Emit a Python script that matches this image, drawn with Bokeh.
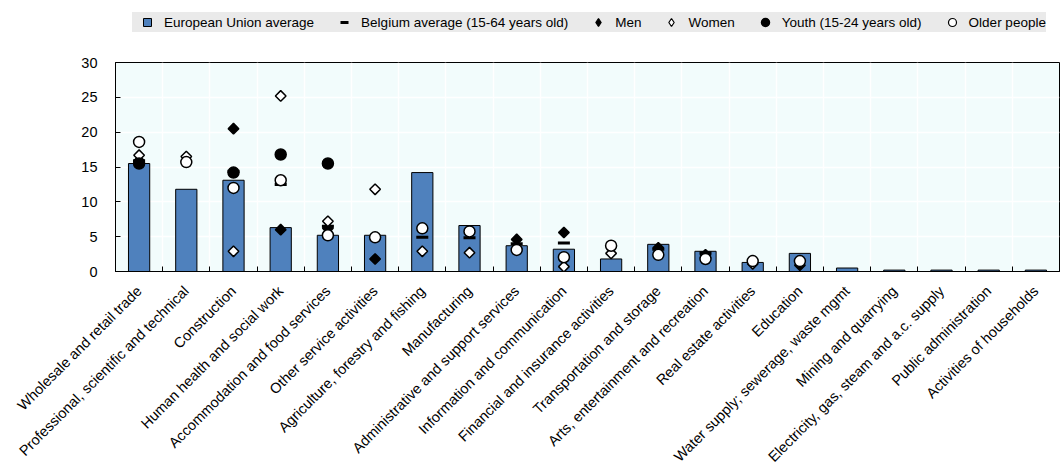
import math
from bokeh.plotting import figure
from bokeh.layouts import column
from bokeh.models import (ColumnDataSource, FixedTicker, Legend, LegendItem, Range1d)
from bokeh.embed import file_html
from bokeh.resources import INLINE

nan = float("nan")

categories = [
    "Wholesale and retail trade", "Professional, scientific and technical", "Construction",
    "Human health and social work", "Accommodation and food services", "Other service activities",
    "Agriculture, forestry and fishing", "Manufacturing", "Administrative and support services",
    "Information and communication", "Financial and insurance activities", "Transportation and storage",
    "Arts, entertainment and recreation", "Real estate activities", "Education",
    "Water supply; sewerage, waste mgmt", "Mining and quarrying", "Electricity, gas, steam and a.c. supply",
    "Public administration", "Activities of households",
]
eu_avg = [15.5, 11.8, 13.1, 6.3, 5.2, 5.2, 14.2, 6.6, 3.7, 3.2, 1.8, 3.9, 2.9, 1.3, 2.6, 0.5, 0.2, 0.2, 0.2, 0.2]
belgium_avg = [15.9, nan, 14.4, 12.5, 6.5, nan, 4.9, 4.85, 4.0, 4.1, nan, 3.2, 2.7, nan, nan, nan, nan, nan, nan, nan]
men = [15.9, nan, 20.5, 6.0, 6.2, 1.8, nan, nan, 4.6, 5.6, nan, 3.4, 2.4, nan, 0.9, nan, nan, nan, nan, nan]
women = [16.7, 16.5, 2.9, 25.2, 7.2, 11.8, 2.9, 2.7, nan, 0.7, 2.6, nan, nan, 1.1, nan, nan, nan, nan, nan, nan]
youth = [15.5, nan, 14.2, 16.8, 15.5, nan, nan, nan, nan, nan, nan, nan, nan, nan, nan, nan, nan, nan, nan, nan]
older = [18.6, 15.7, 12.0, 13.1, 5.2, 4.9, 6.2, 5.75, 3.1, 2.05, 3.7, 2.4, 1.8, 1.5, 1.5, nan, nan, nan, nan, nan]
y_ticks = [0, 5, 10, 15, 20, 25, 30]
legend_labels = ["European Union average", "Belgium average (15-64 years old)", "Men", "Women",
                 "Youth (15-24 years old)", "Older people"]

n = len(categories)
xc = [i + 0.5 for i in range(n)]
src = ColumnDataSource(dict(x=xc, eu=eu_avg, be=belgium_avg, men=men, women=women, youth=youth, older=older))
series_cols = ["eu", "be", "men", "women", "youth", "older"]

FONT = "Liberation Sans"
BLUE = "#4f81bd"

# marker styles on the chart
styles = [
    dict(marker="square", size=10, fill_color=BLUE, line_color="black", line_width=1),
    dict(marker="dash", size=12, line_color="black", line_width=3),
    dict(marker="square", angle=math.pi / 4, size=7.5, fill_color="black", line_color="black", line_width=1.5),
    dict(marker="square", angle=math.pi / 4, size=7.5, fill_color="white", line_color="black", line_width=1.5),
    dict(marker="circle", size=11, fill_color="black", line_color="black", line_width=1.5),
    dict(marker="circle", size=11, fill_color="white", line_color="black", line_width=1.5),
]
# legend glyphs (legend does not rotate markers, so use diamonds there)
leg_styles = [dict(s) for s in styles]
for k in (2, 3):
    leg_styles[k].pop("angle")
    leg_styles[k]["marker"] = "diamond"
    leg_styles[k]["line_width"] = 1.2
leg_styles[5]["line_width"] = 1.2

p = figure(frame_width=944, frame_height=209, output_backend="svg", toolbar_location=None,
           x_range=Range1d(0, n), y_range=Range1d(0, 30),
           min_border_left=115, min_border_right=1, min_border_top=30, min_border_bottom=150)
p.background_fill_color = "#f2fcfc"
p.border_fill_color = "white"
p.outline_line_color = "black"
p.outline_line_width = 1

p.vbar(x="x", top="eu", width=0.45, source=src, fill_color=BLUE, line_color="black", line_width=1)
for col_name, st in zip(series_cols[1:], styles[1:]):
    p.scatter(x="x", y=col_name, source=src, **st)

# axes
xa = p.xaxis[0]
xa.ticker = FixedTicker(ticks=xc, minor_ticks=list(range(n + 1)))
xa.major_label_overrides = {x: c for x, c in zip(xc, categories)}
xa.major_label_orientation = math.pi / 4
xa.major_tick_line_color = None
xa.minor_tick_in = 5
xa.minor_tick_out = 0
xa.minor_tick_line_color = "black"
xa.axis_line_color = "black"
xa.major_label_text_font = FONT
xa.major_label_text_font_size = "14.5px"
xa.major_label_text_color = "black"
xa.major_label_standoff = 11

ya = p.yaxis[0]
ya.ticker = FixedTicker(ticks=y_ticks)
ya.major_tick_in = 5
ya.major_tick_out = 0
ya.minor_tick_line_color = None
ya.axis_line_color = "black"
ya.major_label_text_font = FONT
ya.major_label_text_font_size = "14.5px"
ya.major_label_text_color = "black"
ya.major_label_standoff = 18

p.xgrid.ticker = FixedTicker(ticks=list(range(n + 1)))
p.xgrid.grid_line_color = "white"
p.xgrid.grid_line_width = 1.5
p.ygrid.grid_line_color = "white"
p.ygrid.grid_line_width = 1.5

# legend strip on top (its renderers use the same data, but the view range hides them)
pl = figure(frame_width=944, frame_height=32, output_backend="svg", toolbar_location=None,
            x_axis_type=None, y_axis_type=None, x_range=Range1d(-200, -100), y_range=Range1d(-200, -100),
            min_border_left=115, min_border_right=1, min_border_top=0, min_border_bottom=0)
pl.outline_line_color = None
pl.background_fill_color = "white"
pl.border_fill_color = "white"
pl.grid.visible = False
leg_renderers = [pl.scatter(x="x", y=c, source=src, **st) for c, st in zip(series_cols, leg_styles)]

legend = Legend(items=[LegendItem(label=lab, renderers=[r]) for lab, r in zip(legend_labels, leg_renderers)],
                orientation="horizontal", location=(17, 0), glyph_width=30, glyph_height=20,
                label_standoff=2, spacing=15, padding=6, margin=0,
                background_fill_color="#eaeaea", background_fill_alpha=1, border_line_color=None,
                label_text_font=FONT, label_text_font_size="13.5px", label_text_color="black")
pl.add_layout(legend, "center")

layout = column(pl, p, spacing=0)
open("out.html", "w").write(file_html(layout, INLINE))
